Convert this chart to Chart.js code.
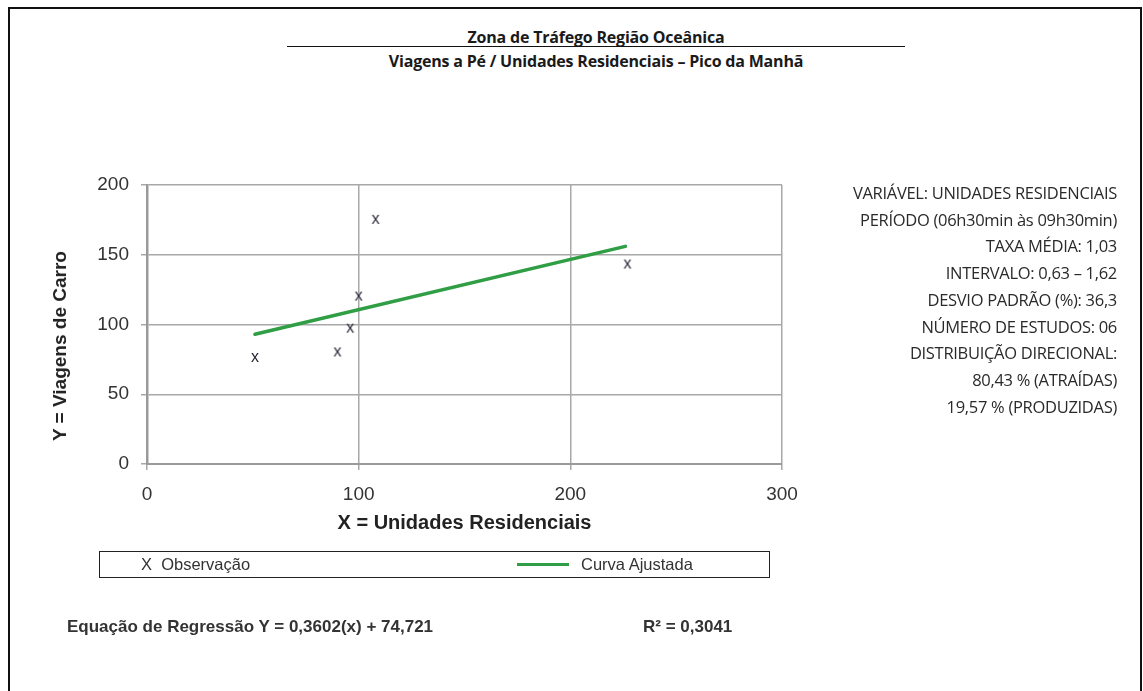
<!DOCTYPE html>
<html>
<head>
<meta charset="utf-8">
<script src="https://cdn.jsdelivr.net/npm/chart.js@4.4.0/dist/chart.umd.min.js"></script>
<style>
  body { margin: 0; background: #fff; width: 1143px; height: 691px; overflow: hidden; position: relative; }
  #frame { position: absolute; left: 8px; top: 7px; width: 1130px; height: 700px; border: 2px solid #111; border-bottom: none; }
  #chart { position: absolute; left: 0; top: 0; }
  .hdr { position: absolute; left: 287px; width: 618px; text-align: center; font-family: "Open Sans", sans-serif; font-weight: 700; color: #1a1a1a; font-size: 16px; letter-spacing: -0.2px; line-height: 20px; }
  #t1 { top: 27px; }
  #rule { position: absolute; left: 287px; top: 46px; width: 618px; height: 0; border-top: 1.5px solid #111; }
  #t2 { top: 51px; }
  #ytitle { position: absolute; left: 60px; top: 346px; transform: translate(-50%, -50%) rotate(-90deg); white-space: nowrap; font-family: "Liberation Sans", sans-serif; font-weight: 700; font-size: 19px; color: #222; }
  #info { position: absolute; right: 26px; top: 180px; text-align: right; font-family: "Open Sans", sans-serif; font-size: 16.5px; line-height: 26.7px; color: #2a2a2a; letter-spacing: -0.3px; }
  #legend { position: absolute; left: 99px; top: 551px; width: 669px; height: 25px; border: 1.5px solid #222; font-family: "Liberation Sans", sans-serif; font-size: 16.5px; color: #333; }
  #legend span { position: absolute; top: 3px; }
  #swatch { position: absolute; left: 417px; top: 11px; width: 52px; height: 3px; background: #2f9e44; }
  .eq { position: absolute; top: 617px; font-family: "Liberation Sans", sans-serif; font-weight: 700; font-size: 17px; color: #333; }
</style>
</head>
<body>
<div id="frame"></div>
<div class="hdr" id="t1">Zona de Tráfego Região Oceânica</div>
<div id="rule"></div>
<div class="hdr" id="t2">Viagens a Pé / Unidades Residenciais – Pico da Manhã</div>
<canvas id="chart" width="1143" height="691"></canvas>
<div id="ytitle">Y = Viagens de Carro</div>
<div id="info">
  VARIÁVEL: UNIDADES RESIDENCIAIS<br>
  PERÍODO (06h30min às 09h30min)<br>
  TAXA MÉDIA: 1,03<br>
  INTERVALO: 0,63 – 1,62<br>
  DESVIO PADRÃO (%): 36,3<br>
  NÚMERO DE ESTUDOS: 06<br>
  DISTRIBUIÇÃO DIRECIONAL:<br>
  80,43 % (ATRAÍDAS)<br>
  19,57 % (PRODUZIDAS)
</div>
<div id="legend">
  <span style="left:41px">X&nbsp;&nbsp;Observação</span>
  <div id="swatch"></div>
  <span style="left:481px">Curva Ajustada</span>
</div>
<div class="eq" style="left:67px">Equação de Regressão Y = 0,3602(x) + 74,721</div>
<div class="eq" style="left:643px">R² = 0,3041</div>

<script>
// observações (unidades residenciais x viagens)
var obsX = [51, 90, 96, 100, 108, 227];
var obsY = [76, 80, 97, 120, 175, 143];
// curva ajustada, extremos
var fitX = [51, 226];
var fitY = [93, 156];
var xTicks = [0, 100, 200, 300];
var yTicks = [0, 50, 100, 150, 200];

var tickFont = { family: "Liberation Sans", size: 19 };
var titleFont = { family: "Liberation Sans", size: 20, weight: "bold" };

// marcador "x" desenhado como texto
var xMark = document.createElement('canvas');
xMark.width = 14;
xMark.height = 14;
var mctx = xMark.getContext('2d');
mctx.font = '16px "Liberation Sans"';
mctx.fillStyle = '#262636';
mctx.textAlign = 'center';
mctx.textBaseline = 'alphabetic';
mctx.fillText('x', 7, 11);

var ctx = document.getElementById("chart").getContext('2d');
var myChart = new Chart(ctx, {
    type: 'scatter',
    data: {
        datasets: [{
            label: 'Observação',
            data: obsX.map(function(x, i) { return { x: x, y: obsY[i] }; }),
            pointStyle: xMark,
            pointRadius: 7,
            showLine: false
        }, {
            label: 'Curva Ajustada',
            data: fitX.map(function(x, i) { return { x: x, y: fitY[i] }; }),
            showLine: true,
            borderColor: '#2f9e44',
            borderWidth: 3.5,
            pointRadius: 0,
            borderCapStyle: 'round'
        }]
    },
    options: {
        responsive: false,
        animation: false,
        layout: { padding: { left: 40, top: 185, right: 361, bottom: 155 } },
        plugins: { legend: { display: false }, tooltip: { enabled: false } },
        scales: {
            x: {
                type: 'linear', min: 0, max: 300,
                afterBuildTicks: function(s) { s.ticks = xTicks.map(function(v) { return { value: v }; }); },
                afterFit: function(s) { s.height = 72; },
                grid: { color: '#a8a8a8', lineWidth: 1.5, tickLength: 6 },
                border: { color: '#9a9a9a', width: 2 },
                ticks: { padding: 13, font: tickFont, color: '#333' , maxRotation: 0 },
                title: { display: true, text: 'X = Unidades Residenciais', font: titleFont, color: '#222', padding: { top: 0, bottom: 1 } }
            },
            y: {
                min: 0, max: 200,
                afterBuildTicks: function(s) { s.ticks = yTicks.map(function(v) { return { value: v }; }); },
                afterFit: function(s) { s.width = 107; },
                grid: { color: '#a8a8a8', lineWidth: 1.5, tickLength: 6 },
                border: { color: '#9a9a9a', width: 2.5 },
                ticks: { padding: 12, font: tickFont, color: '#333' }
            }
        }
    }
});
</script>
</body>
</html>
